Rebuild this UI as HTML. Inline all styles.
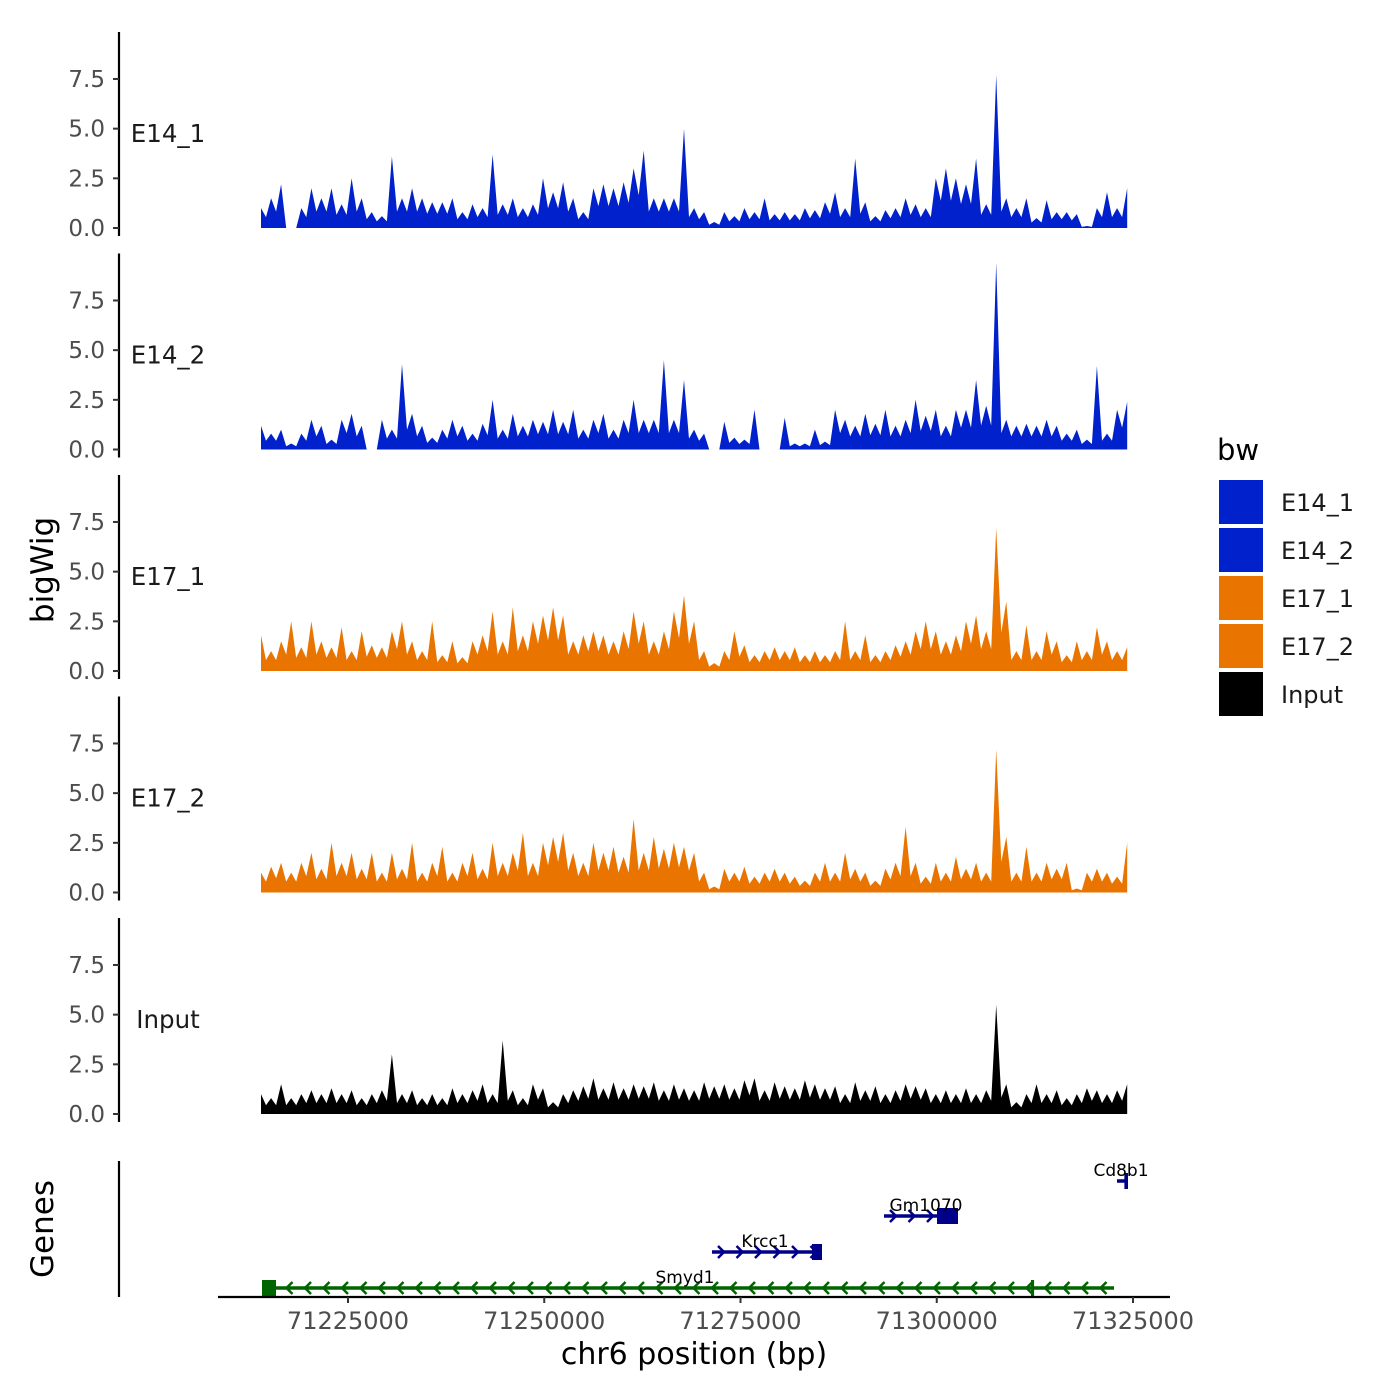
<!DOCTYPE html>
<html><head><meta charset="utf-8"><style>
body{margin:0;background:#fff}
svg{display:block;font-family:"DejaVu Sans","Liberation Sans",sans-serif}
</style></head><body>
<svg id="c" width="1400" height="1400" viewBox="0 0 1400 1400" xmlns="http://www.w3.org/2000/svg"></svg>
<script>
const trackNames = ["E14_1","E14_2","E17_1","E17_2","Input"];
const trackColors = ["#0021cc","#0021cc","#e97500","#e97500","#000000"];
const yTicks = [0,2.5,5,7.5];
const yTickLabels = ["0.0","2.5","5.0","7.5"];
const xTicks = [71225000,71250000,71275000,71300000,71325000];
const xTickLabels = ["71225000","71250000","71275000","71300000","71325000"];
const binStart = 71213917;
const binSize = 1283;
const e14_1 = [1,1.5,2.2,0,1,2,1.5,2,1.2,2.5,1.5,0.8,0.6,3.6,1.5,2,1.5,1.3,1.3,1.5,0.8,1.2,1,3.7,1.2,1.5,1,1.2,2.5,1.8,2.3,1.5,0.8,2,2.2,2,2.3,3,3.9,1.5,1.5,1.5,5,1,0.8,0.3,0.8,0.6,1,0.8,1.5,0.7,0.8,0.7,1,0.9,1.3,1.8,1,3.5,1.3,0.6,0.9,1,1.5,1.2,1,2.5,3,2.5,2.2,3.5,1.2,7.7,1.5,1,1.5,0.5,1.4,0.8,0.8,0.7,0.1,1,1.8,1,2];
const e14_2 = [1.2,0.8,1,0.3,0.8,1.5,1.2,0.5,1.5,1.8,1.2,0,1.5,1,4.3,1.8,1.2,0.6,1,1.5,1.2,0.8,1.3,2.5,1,1.8,1.2,1.5,1.4,2,1.4,2,1,1.5,1.8,1,1.5,2.5,1.5,1.5,4.5,1.5,3.5,1,0.8,0,1.4,0.6,0.5,2,0,0,1.6,0.3,0.3,1,0.4,2,1.5,1.2,1.8,1.3,2,1.2,1.5,2.5,1.7,2,1.2,2,2,3.5,2.2,9.4,1.5,1.2,1.3,1.2,1.5,1.2,0.8,1,0.5,4.2,0.8,2,2.4];
const e17_1 = [1.8,1,1.5,2.5,1.2,2.5,1.5,1.2,2.2,1,2,1.3,1.2,2,2.5,1.5,1,2.5,0.8,1.5,0.7,1.5,1.8,3,1.5,3.2,1.8,2.5,2.8,3.2,2.8,1.5,1.8,2,1.8,1.5,2,3,2.5,1.5,2,3,3.8,2.5,1,0.4,1,2,1.3,0.8,1,1.2,1,1.2,0.8,1,0.8,1,2.5,1,1.8,0.8,1,1.3,1.5,2,2.5,2,1.5,1.8,2.5,2.8,2,7.2,3.5,1,2.3,1,2,1.5,0.8,1.5,1,2.2,1.5,1,1.2];
const e17_2 = [1,1.3,1.5,1,1.5,2,1.2,2.5,1.5,2,1.2,2,1,2,1.2,2.5,1,1.5,2.3,1,1.5,2,1.2,2.5,1.5,2,3,1.5,2.5,2.8,3,2,1.5,2.5,2,2.3,1.8,3.7,2,2.8,2.2,2.5,2.3,2,1,0.3,1.2,1,1.3,0.8,1,1.2,1,0.8,0.6,1,1.5,1,2,1.2,1,0.6,1.2,1.5,3.3,1.5,0.8,1.5,1,1.8,1.2,1.5,1,7.2,2.8,1,2.3,1,1.5,1.2,1.5,0.2,1,1.2,1,0.8,2.5];
const inputTrack = [1,0.8,1.5,0.8,1,1.2,1,1.3,1,1.2,0.8,1,1.2,3,1,1.2,0.8,1,0.8,1.3,1,1.2,1.5,1,3.7,1.2,0.8,1.5,1.3,0.6,1,1.2,1.4,1.8,1.3,1.6,1.3,1.5,1.4,1.6,1.2,1.5,1.3,1.2,1.6,1.4,1.5,1.3,1.7,1.8,1.2,1.6,1.4,1.3,1.7,1.5,1.3,1.4,1,1.6,1.2,1.4,1,1.2,1.5,1.4,1.3,1,1.2,1,1.3,1,1.2,5.5,1.5,0.6,1,1.5,1,1.2,0.8,1,1.3,1.2,1,1.2,1.5];
const trackValues = [e14_1,e14_2,e17_1,e17_2,inputTrack];
const geneNames = ["Smyd1","Krcc1","Gm1070","Cd8b1"];
const geneStarts = [71214045,71271369,71293280,71322962];
const geneEnds = [71322580,71285382,71302707,71324363];
const geneStrands = ["-","+","+","+"];
const geneRows = [0,1,2,3];
const geneExonStarts = [[71214045,71312000],[71284108],[71300032],[71323900]];
const geneExonEnds = [[71215828,71312400],[71285382],[71302707],[71324363]];
const geneColors = ["#006400","#00008b","#00008b","#00008b"];

const NS="http://www.w3.org/2000/svg";
const svg=document.getElementById('c');
function mk(tag,attrs,parent){const e=document.createElementNS(NS,tag);for(const k in attrs)e.setAttribute(k,attrs[k]);(parent||svg).appendChild(e);return e;}
const xScale=bp=>348+(bp-71225000)/25000*196.25;
const pxPerUnit=19.87;
const zeroY=[228,449.5,671,892.5,1114];

trackNames.forEach((name,t)=>{
  const g=mk('g',{});
  
  
  const y0=zeroY[t];
  const yS=v=>y0-v*pxPerUnit;
  const vals=trackValues[t];
  let pts=[[xScale(binStart),y0]];
  vals.forEach((v,i)=>{
    const x=xScale(binStart+i*binSize);
    if(i>0){const prev=vals[i-1];const xm=xScale(binStart+(i-0.5)*binSize);pts.push([xm,yS(Math.min(prev,v)*0.55)]);}
    pts.push([x,yS(v)]);
  });
  pts.push([xScale(binStart+(vals.length-1)*binSize),y0]);
  const p=mk('polygon',{points:pts.map(p=>p[0].toFixed(1)+','+p[1].toFixed(1)).join(' '),fill:trackColors[t]},g);
  
  
  const ax=mk('line',{x1:119,x2:119,y1:y0-196,y2:y0+8,stroke:'#000','stroke-width':2.2},g);
  
  
  yTicks.forEach((v,k)=>{
    const y=yS(v);
    mk('line',{x1:113,x2:119,y1:y,y2:y,stroke:'#333','stroke-width':2},g);
    const tx=mk('text',{x:105,y:y+8,'text-anchor':'end','font-size':23,fill:'#4d4d4d'},g);
    tx.textContent=yTickLabels[k];
    
    
  });
  const lb=mk('text',{x:168,y:y0-86,'text-anchor':'middle','font-size':24.5,fill:'#1a1a1a'},g);
  lb.textContent=name;
  
  
});

// genes panel
const gg=mk('g',{});


mk('line',{x1:119,x2:119,y1:1161,y2:1297,stroke:'#000','stroke-width':2.2},gg);
const rowY=[1288,1252,1216,1181];
geneNames.forEach((n,i)=>{
  const gr=mk('g',{},gg);
  
  
  const y=rowY[geneRows[i]],c=geneColors[i];
  const x1=xScale(geneStarts[i]),x2=xScale(geneEnds[i]);
  mk('line',{x1:x1,x2:x2,y1:y,y2:y,stroke:c,'stroke-width':3.5},gr);
  for(let x=x1+8;x<x2-4;x+=18.5){
    const d=geneStrands[i]==='-'?`M${x+4},${y-6} L${x-2},${y} L${x+4},${y+6}`:`M${x-2},${y-6} L${x+4},${y} L${x-2},${y+6}`;
    mk('path',{d:d,stroke:c,'stroke-width':2.5,fill:'none'},gr);
  }
  geneExonStarts[i].forEach((s,k)=>{
    const a=xScale(s),b=xScale(geneExonEnds[i][k]);
    mk('rect',{x:a,y:y-8,width:Math.max(3,b-a),height:16,fill:c},gr);
  });
  const lx=i===0?685:i===3?1121:(x1+x2)/2+ (i===1?-2:5);
  const t=mk('text',{x:lx,y:y-5,'text-anchor':'middle','font-size':17,fill:'#000'},gr);
  t.textContent=n;
});

// x axis
const xa=mk('g',{});


mk('line',{x1:218,x2:1170,y1:1297,y2:1297,stroke:'#000','stroke-width':2.2},xa);
xTicks.forEach((v,k)=>{
  const x=xScale(v);
  mk('line',{x1:x,x2:x,y1:1297,y2:1303,stroke:'#333','stroke-width':2},xa);
  const t=mk('text',{x:x,y:1329,'text-anchor':'middle','font-size':24,fill:'#4d4d4d'},xa);
  t.textContent=xTickLabels[k];
  
  
});
const xt=mk('text',{x:694,y:1364,'text-anchor':'middle','font-size':30,fill:'#000'});
xt.textContent='chr6 position (bp)';


const yt=mk('text',{x:0,y:0,transform:'translate(53,570) rotate(-90)','text-anchor':'middle','font-size':31,fill:'#000'});
yt.textContent='bigWig';


const gt=mk('text',{x:0,y:0,transform:'translate(53,1229) rotate(-90)','text-anchor':'middle','font-size':31,fill:'#000'});
gt.textContent='Genes';



// legend
const lg=mk('g',{});


const lt=mk('text',{x:1217,y:460,'font-size':29,fill:'#000'},lg);
lt.textContent='bw';
trackNames.forEach((n,i)=>{
  const e=mk('g',{},lg);
  
  
  mk('rect',{x:1219,y:480+i*48,width:44,height:44,fill:trackColors[i]},e);
  const t=mk('text',{x:1281,y:511+i*48,'font-size':24,fill:'#1a1a1a'},e);
  t.textContent=n;
});
</script>
</body></html>
